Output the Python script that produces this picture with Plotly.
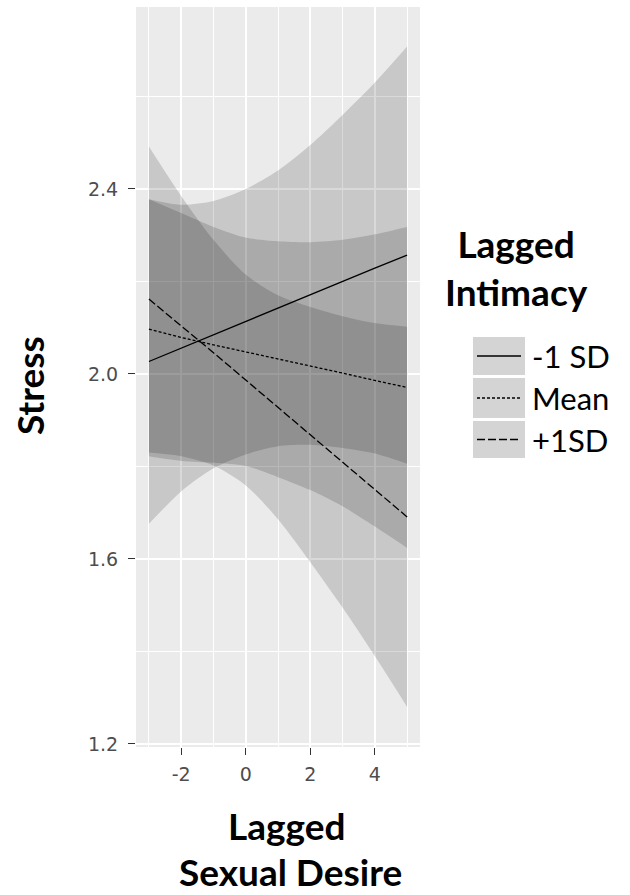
import plotly.graph_objects as go

# ---------------- data ----------------
x_vals = [-3, -2, -1, 0, 1, 2, 3, 4, 5]

series_names = ["-1 SD", "Mean", "+1SD"]

fit_low = [2.027, 2.056, 2.085, 2.113, 2.142, 2.171, 2.200, 2.229, 2.257]
upper_low = [2.378, 2.366, 2.374, 2.400, 2.440, 2.495, 2.560, 2.630, 2.708]
lower_low = [1.676, 1.746, 1.796, 1.826, 1.844, 1.847, 1.840, 1.828, 1.806]

fit_mean = [2.097, 2.079, 2.063, 2.048, 2.032, 2.017, 2.002, 1.986, 1.971]
upper_mean = [2.378, 2.348, 2.318, 2.295, 2.287, 2.285, 2.290, 2.302, 2.318]
lower_mean = [1.822, 1.812, 1.808, 1.801, 1.777, 1.749, 1.714, 1.670, 1.624]

fit_high = [2.162, 2.105, 2.046, 1.987, 1.928, 1.869, 1.810, 1.750, 1.691]
upper_high = [2.492, 2.385, 2.290, 2.215, 2.170, 2.145, 2.125, 2.110, 2.102]
lower_high = [1.830, 1.822, 1.802, 1.759, 1.686, 1.593, 1.495, 1.390, 1.280]

y_ticks = [1.2, 1.6, 2.0, 2.4]
x_ticks = [-2, 0, 2, 4]

# ---------------- styling ----------------
W, H = 630, 895
PL, PR, PT, PB = 136, 420, 7, 747  # panel pixel box
RIBBON = "rgba(0,0,0,0.15)"
DASHES = ["solid", "3px,2px", "8px,3px"]
TITLE_FONT = "Lato, 'Open Sans', sans-serif"


def px(x):
    return (x - PL) / (PR - PL)


def py(y):
    return (PB - y) / (PB - PT)


fig = go.Figure()

bands = [(lower_low, upper_low), (lower_mean, upper_mean), (lower_high, upper_high)]
for (lo, up) in bands:
    fig.add_trace(go.Scatter(x=x_vals, y=lo, mode="lines",
                             line=dict(width=0, shape="spline", smoothing=0.8),
                             hoverinfo="skip", showlegend=False))
    fig.add_trace(go.Scatter(x=x_vals, y=up, mode="lines", fill="tonexty",
                             fillcolor=RIBBON,
                             line=dict(width=0, shape="spline", smoothing=0.8),
                             hoverinfo="skip", showlegend=False))

fits = [fit_low, fit_mean, fit_high]
for name, f, d in zip(series_names, fits, DASHES):
    fig.add_trace(go.Scatter(x=x_vals, y=f, mode="lines", name=name,
                             line=dict(color="black", width=1.3, dash=d),
                             showlegend=False))

axis_common = dict(
    showgrid=True, gridcolor="white", gridwidth=1.6,
    zeroline=False, showline=False,
    ticks="outside", ticklen=7, tickwidth=1.4, tickcolor="#333333",
    tickfont=dict(family="DejaVu Sans, sans-serif", size=19, color="#4D4D4D"),
)

fig.update_xaxes(range=[-3.4, 5.4], tickvals=x_ticks, ticktext=[str(v) for v in x_ticks],
                 minor=dict(dtick=1, tick0=-3, showgrid=True, gridcolor="white", gridwidth=0.9,
                            ticks=""),
                 ticklabelstandoff=3, **axis_common)
fig.update_yaxes(range=[1.1935, 2.7935], tickvals=y_ticks,
                 ticktext=[f"{v:.1f}" for v in y_ticks],
                 minor=dict(dtick=0.2, tick0=1.2, showgrid=True, gridcolor="white", gridwidth=0.9,
                            ticks=""),
                 ticklabelstandoff=6, **axis_common)

shapes = []
annotations = []

title_font = dict(family=TITLE_FONT, size=37, color="black")

# axis titles
annotations.append(dict(text="<b>Stress</b>", xref="paper", yref="paper",
                        x=px(29), y=py(386), xanchor="center", yanchor="middle",
                        textangle=-90, showarrow=False, font=title_font))
annotations.append(dict(text="<b>Lagged</b>", xref="paper", yref="paper",
                        x=px(286), y=py(826), xanchor="center", yanchor="middle",
                        showarrow=False, font=title_font))
annotations.append(dict(text="<b>Sexual Desire</b>", xref="paper", yref="paper",
                        x=px(290), y=py(871), xanchor="center", yanchor="middle",
                        showarrow=False, font=title_font))

# legend (drawn manually, ggplot-style keys)
annotations.append(dict(text="<b>Lagged</b><br><b>Intimacy</b>", xref="paper", yref="paper",
                        x=px(516), y=py(268), xanchor="center", yanchor="middle",
                        showarrow=False, font=title_font))
key_boxes = [(337, 375), (378, 418), (421, 458)]
for name, d, (y0, y1) in zip(series_names, DASHES, key_boxes):
    shapes.append(dict(type="rect", xref="paper", yref="paper",
                       x0=px(473), x1=px(525), y0=py(y1), y1=py(y0),
                       fillcolor="#D4D4D4", line=dict(width=0), layer="above"))
    yc = (y0 + y1) / 2
    shapes.append(dict(type="line", xref="paper", yref="paper",
                       x0=px(477), x1=px(521), y0=py(yc), y1=py(yc),
                       line=dict(color="black", width=1.3, dash=d), layer="above"))
    annotations.append(dict(text=name, xref="paper", yref="paper",
                            x=px(530), y=py(yc), xanchor="left", yanchor="middle",
                            showarrow=False,
                            font=dict(family=TITLE_FONT, size=31, color="black")))

fig.update_layout(
    width=W, height=H,
    margin=dict(l=PL, r=W - PR, t=PT, b=H - PB, pad=0),
    paper_bgcolor="white", plot_bgcolor="#EBEBEB",
    showlegend=False,
    shapes=shapes, annotations=annotations,
)

fig.write_html("out.html", config={"displayModeBar": False},
               post_script="document.body.style.margin='0px';document.body.style.overflow='hidden';")
